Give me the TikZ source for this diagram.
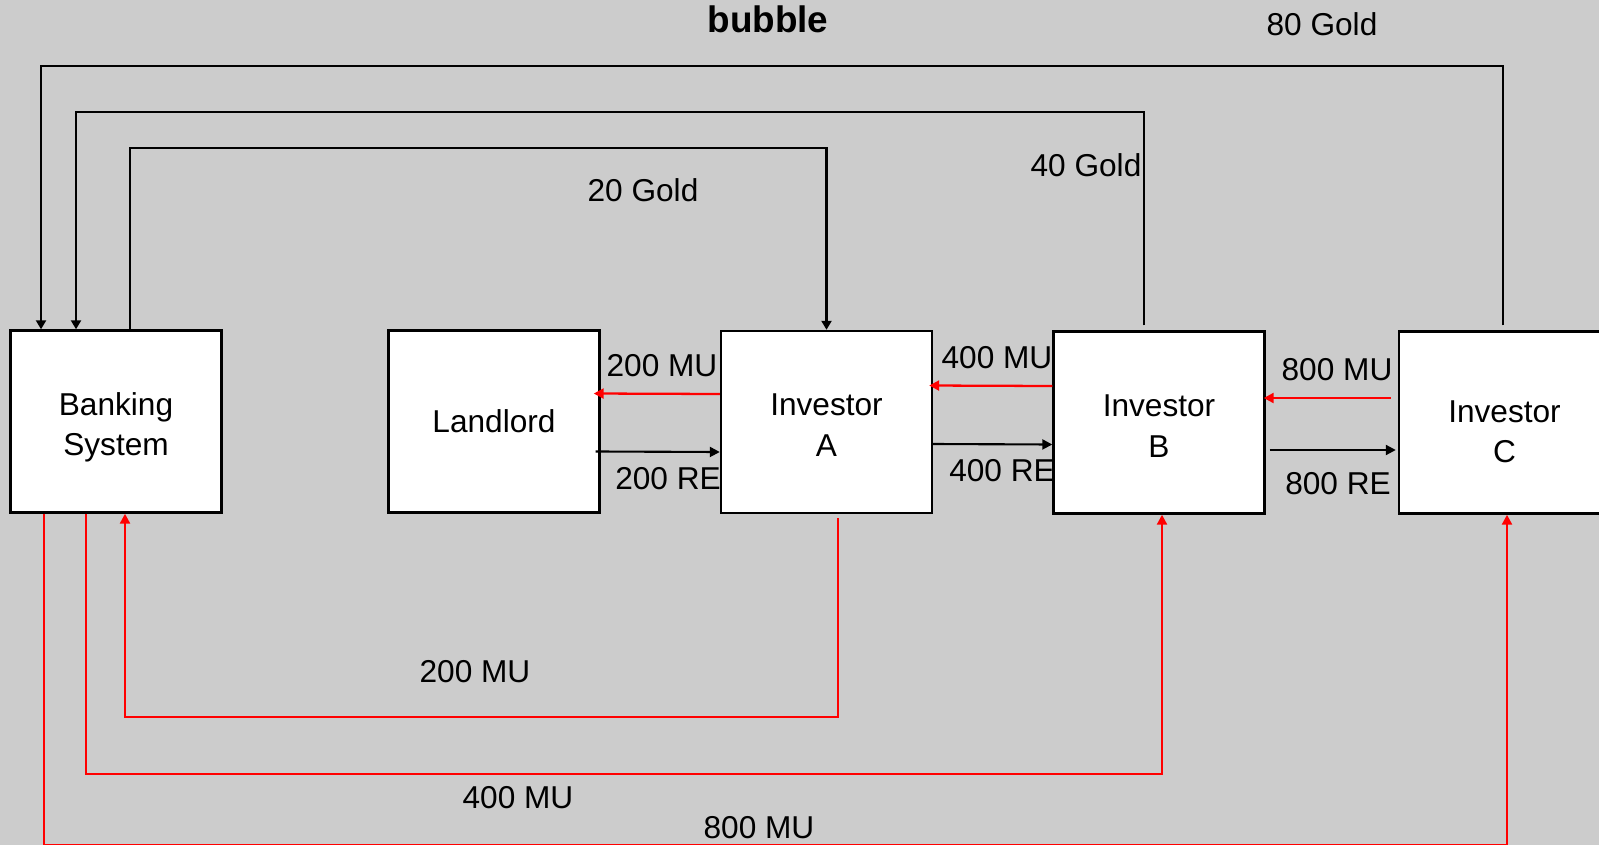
\documentclass[tikz,border=0pt]{standalone}
\usepackage{fontspec}
\setmainfont{Liberation Sans}
\usetikzlibrary{arrows.meta,calc}
\definecolor{paper}{HTML}{CCCCCC}
\definecolor{money}{HTML}{FF0000}

\begin{document}
\begin{tikzpicture}[x=0.02cm,y=-0.02cm,
  box/.style={draw=black, fill=white, line width=1.4pt, minimum width=4.22cm,
    minimum height=3.64cm, inner sep=0pt, align=center,
    font=\fontsize{18}{22.8}\selectfont},
  lbl/.style={inner sep=0pt, font=\fontsize{18}{22.8}\selectfont},
  goldflow/.style={draw=black, line width=1.2pt, -{Triangle[length=0.18cm,width=0.2cm]}},
  reflow/.style={draw=black, line width=1.2pt, -{Triangle[length=0.2cm,width=0.2cm]}},
  muflow/.style={draw=money, line width=1.3pt, -{Triangle[length=0.2cm,width=0.2cm]}}]
  % 1 unit = 1 px of the 1599 x 845 canvas, y running downwards

  % background
  \fill[paper] (0,0) rectangle (1599,845);
  \clip (0,0) rectangle (1599,845);

  % title
  \node[inner sep=0pt, font=\fontsize{21}{25}\selectfont\bfseries] (title) at (768,19) {bubble};

  % actors (struts push the two-line texts down a little)
  \node[box] (banking)  at (116,421.5)  {\rule{0pt}{0.68cm}Banking\\System};
  \node[box] (landlord) at (494,421.5)  {Landlord};
  \node[box] (invA)     at (826.5,422)  {\rule{0pt}{0.56cm}Investor\\A};
  \node[box] (invB)     at (1159,422.5) {\rule{0pt}{0.58cm}Investor\\B};
  \node[box] (invC)     at (1504.5,422.5) {\rule{0pt}{0.79cm}Investor\\C};

  % gold handed over to the banking system
  \draw[goldflow] ([xshift=-0.03cm,yshift=0.1cm]invC.north) -- ++(0,-259)
    -| ([xshift=-1.5cm]banking.north);
  \draw[goldflow] ([xshift=-0.3cm,yshift=0.1cm]invB.north) -- ++(0,-213)
    -| ([xshift=-0.8cm]banking.north);
  \draw[goldflow] ([xshift=0.28cm]banking.north) -- ++(0,-181) -| (invA.north);
  \node[lbl] (gold80) at (1322,24)  {80 Gold};
  \node[lbl] (gold40) at (1086,165) {40 Gold};
  \node[lbl] (gold20) at (643,190)  {20 Gold};

  % money one way, real estate the other
  \draw[muflow] ([yshift=0.56cm]invA.west) -- ([yshift=0.56cm,xshift=-0.14cm]landlord.east);
  \draw[reflow] ([yshift=-0.6cm,xshift=-0.1cm]landlord.east) -- ([yshift=-0.6cm]invA.west);
  \draw[muflow] ([yshift=0.73cm]invB.west) -- ([yshift=0.73cm,xshift=-0.08cm]invA.east);
  \draw[reflow] ([yshift=-0.44cm,xshift=-0.04cm]invA.east) -- ([yshift=-0.44cm]invB.west);
  \draw[muflow] ([yshift=0.49cm,xshift=-0.14cm]invC.west) -- ([yshift=0.49cm,xshift=-0.04cm]invB.east);
  \draw[reflow] ([yshift=-0.55cm,xshift=0.08cm]invB.east) -- ([yshift=-0.55cm,xshift=-0.04cm]invC.west);
  \node[lbl] (muLA) at (662,366)  {200 MU};
  \node[lbl] (reLA) at (668,479)  {200 RE};
  \node[lbl] (muAB) at (997,358)  {400 MU};
  \node[lbl] (reAB) at (1002,471) {400 RE};
  \node[lbl] (muBC) at (1337,370) {800 MU};
  \node[lbl] (reBC) at (1338,484) {800 RE};

  % credit from the banking system
  \draw[muflow] ([xshift=0.23cm,yshift=-0.08cm]invA.south) -- ++(0,199)
    -| ([xshift=0.18cm]banking.south);
  \draw[muflow] ([xshift=-0.6cm]banking.south) -- ++(0,260)
    -| ([xshift=0.06cm]invB.south);
  \draw[muflow] ([xshift=-1.44cm]banking.south) -- ++(0,331)
    -| ([xshift=0.05cm]invC.south);
  \node[lbl] (muA) at (475,672) {200 MU};
  \node[lbl] (muB) at (518,798) {400 MU};
  \node[lbl] (muC) at (759,828) {800 MU};
\end{tikzpicture}
\end{document}
